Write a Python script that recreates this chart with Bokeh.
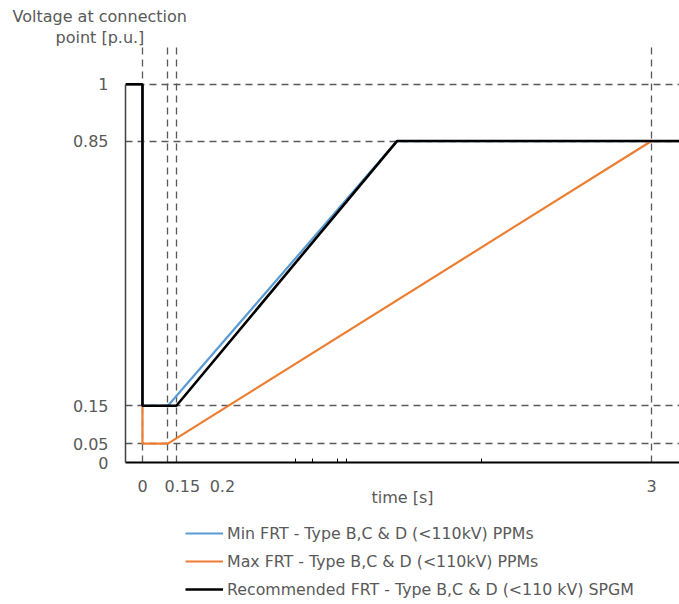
from bokeh.plotting import figure
from bokeh.layouts import column
from bokeh.models import Range1d, FixedTicker, Legend, LegendItem, Title
from bokeh.embed import file_html
from bokeh.resources import INLINE

# ---- data ----
min_t = [-0.1, 0, 0, 0.15, 1.5, 3.2]
min_v = [1, 1, 0.15, 0.15, 0.85, 0.85]
max_t = [-0.1, 0, 0, 0.15, 3.0, 3.2]
max_v = [1, 1, 0.05, 0.05, 0.85, 0.85]
rec_t = [-0.1, 0, 0, 0.2, 1.5, 3.2]
rec_v = [1, 1, 0.15, 0.15, 0.85, 0.85]

series_names = [
    "Min FRT - Type B,C & D (<110kV) PPMs",
    "Max FRT - Type B,C & D (<110kV) PPMs",
    "Recommended FRT - Type B,C & D (<110 kV) SPGM",
]
series_colors = ["#5B9BD5", "#ED7D31", "#000000"]
series_widths = [2.2, 2.2, 2.6]

x_grid_ticks = [-0.1, 0, 0.15, 0.2, 3]
y_ticks = [0, 0.05, 0.15, 0.85, 1]
y_tick_labels = ["0", "0.05", "0.15", "0.85", "1"]
x_small_ticks = [0.9, 1.0, 1.15, 1.2, 2.0]
x_tick_values = [0, 0.15, 0.2, 3]
x_tick_labels = ["0", "0.15", "0.2", "3"]
x_label_shift_px = [0, 14.5, 46, 0]   # label displacement, as in the original

X_START, X_END = -0.1, 3.165
Y_START, Y_END = 0, 1.1

W = 679
FW, FH = 554, 416
ML, MT, MB, MR = 125, 46, 52, 0
H1 = MT + FH + MB          # main chart height
H2 = 604 - H1              # legend strip height
FONT = "DejaVu Sans"
TXT = "#595959"

p = figure(width=W, height=H1, frame_width=FW, frame_height=FH,
           output_backend="svg", toolbar_location=None,
           x_range=Range1d(X_START, X_END), y_range=Range1d(Y_START, Y_END),
           min_border_left=ML, min_border_top=MT, min_border_bottom=MB,
           min_border_right=MR)
p.outline_line_color = None

kx = FW / (X_END - X_START)

# grid
p.xgrid.ticker = FixedTicker(ticks=x_grid_ticks)
p.ygrid.ticker = FixedTicker(ticks=y_ticks[1:])
for g in (p.xgrid, p.ygrid):
    g.grid_line_color = "#595959"
    g.grid_line_dash = "7 5"
    g.grid_line_width = 1.3

# y axis
ya = p.yaxis[0]
ya.ticker = FixedTicker(ticks=y_ticks)
ya.major_label_overrides = {float(t): s for t, s in zip(y_ticks, y_tick_labels)}
ya.major_tick_out = 0
ya.major_tick_in = 0
ya.minor_tick_out = 0
ya.minor_tick_in = 0
ya.bounds = (0, 1)
ya.axis_line_color = "#404040"
ya.axis_line_width = 1.5
ya.major_label_standoff = 17
ya.major_label_text_font = FONT
ya.major_label_text_font_size = "16px"
ya.major_label_text_color = TXT

# x axis: labels at (displaced) label spots, small inward ticks as minor ticks
label_pos = [v + d / kx for v, d in zip(x_tick_values, x_label_shift_px)]
xa = p.xaxis[0]
xa.ticker = FixedTicker(ticks=label_pos, minor_ticks=x_small_ticks)
xa.major_label_overrides = {float(t): s for t, s in zip(label_pos, x_tick_labels)}
xa.major_tick_in = 0
xa.major_tick_out = 0
xa.minor_tick_in = 4
xa.minor_tick_out = 0
xa.minor_tick_line_color = "#000000"
xa.axis_line_color = "#000000"
xa.axis_line_width = 2
xa.major_label_standoff = 17
xa.major_label_text_font = FONT
xa.major_label_text_font_size = "16px"
xa.major_label_text_color = TXT
xa.axis_label = "time [s]"
xa.axis_label_text_font = FONT
xa.axis_label_text_font_size = "16px"
xa.axis_label_text_font_style = "normal"
xa.axis_label_text_color = TXT
xa.axis_label_standoff = -7

# lines
series = [(min_t, min_v), (max_t, max_v), (rec_t, rec_v)]
draw_order = [1, 0, 2]
for i in draw_order:
    t, v = series[i]
    p.line(t, v, line_color=series_colors[i], line_width=series_widths[i])

# y axis title, two lines at top-left
p.add_layout(Title(text="point [p.u.]", align="left", offset=-70, standoff=0,
                   text_font=FONT, text_font_size="16px",
                   text_font_style="normal", text_color=TXT), "above")
p.add_layout(Title(text="Voltage at connection", align="left", offset=-113,
                   standoff=0, text_font=FONT, text_font_size="16px",
                   text_font_style="normal", text_color=TXT), "above")

# legend strip below the chart (its line renderers lie outside its view)
p2 = figure(width=W, height=H2, frame_width=W, frame_height=H2,
            output_backend="svg", toolbar_location=None,
            x_range=Range1d(100, 101), y_range=Range1d(100, 101),
            x_axis_location=None, y_axis_location=None, min_border=0)
p2.outline_line_color = None
p2.grid.visible = False
items = []
for (t, v), name, color, lw in zip(series, series_names, series_colors,
                                   series_widths):
    r = p2.line(t, v, line_color=color, line_width=lw)
    items.append(LegendItem(label=name, renderers=[r]))

legend = Legend(items=items, location=(185, H2 - 9 - 76))
legend.glyph_width = 38
legend.glyph_height = 20
legend.label_height = 20
legend.label_standoff = 4
legend.spacing = 8
legend.padding = 0
legend.margin = 0
legend.border_line_color = None
legend.background_fill_alpha = 0
legend.label_text_font = FONT
legend.label_text_font_size = "15.8px"
legend.label_text_color = TXT
p2.add_layout(legend)

open("out.html", "w").write(file_html(column(p, p2, spacing=0), INLINE))
